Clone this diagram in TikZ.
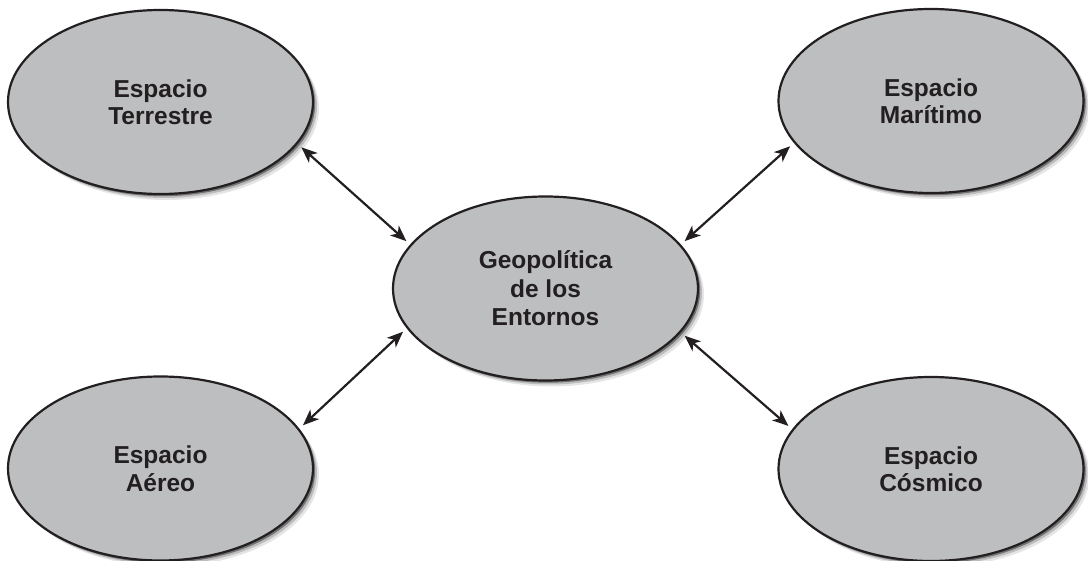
\documentclass[tikz,border=0pt]{standalone}
\usepackage{fontspec}
\setmainfont{Liberation Sans}
\usetikzlibrary{arrows.meta,shapes.geometric}
\definecolor{ellfill}{RGB}{188,190,192}
\definecolor{ink}{RGB}{35,31,32}
\tikzset{
  blob/.style={ellipse, draw=ink, line width=2.2pt, fill=ellfill,
    minimum width=305pt, minimum height=184pt, inner sep=0pt,
    text=ink, align=center, font=\bfseries\fontsize{24.5}{27.5}\selectfont,
    preaction={fill=black,opacity=0.10,transform canvas={shift={(6pt,-6pt)}}},
    preaction={fill=black,opacity=0.18,transform canvas={shift={(4pt,-4pt)}}},
    preaction={fill=black,opacity=0.4,transform canvas={shift={(2.2pt,-2.2pt)}}}},
  link/.style={draw=ink, line width=2.2pt,
    {Stealth[length=16pt,width=13pt,inset=4.5pt]}-{Stealth[length=16pt,width=13pt,inset=4.5pt]},
    shorten <=5pt, shorten >=5pt}
}
\begin{document}
\begin{tikzpicture}[x=1pt,y=-1pt]
\useasboundingbox (0,0) rectangle (1088,561);
\node[blob] (T) at (160.5,102) {Espacio\\Terrestre};
\node[blob] (M) at (931,101) {Espacio\\Marítimo};
\node[blob, font=\bfseries\fontsize{24.5}{28.5}\selectfont] (C) at (545.5,288.5) {Geopolítica\\de los\\Entornos};
\node[blob] (A) at (160.5,468.5) {Espacio\\Aéreo};
\node[blob] (K) at (931,469) {Espacio\\Cósmico};
\draw[link] (T.-17) -- (C.162);
\draw[link] (M.197) -- (C.18);
\draw[link] (A.16) -- (C.196);
\draw[link] (K.164) -- (C.-18);
\end{tikzpicture}
\end{document}
